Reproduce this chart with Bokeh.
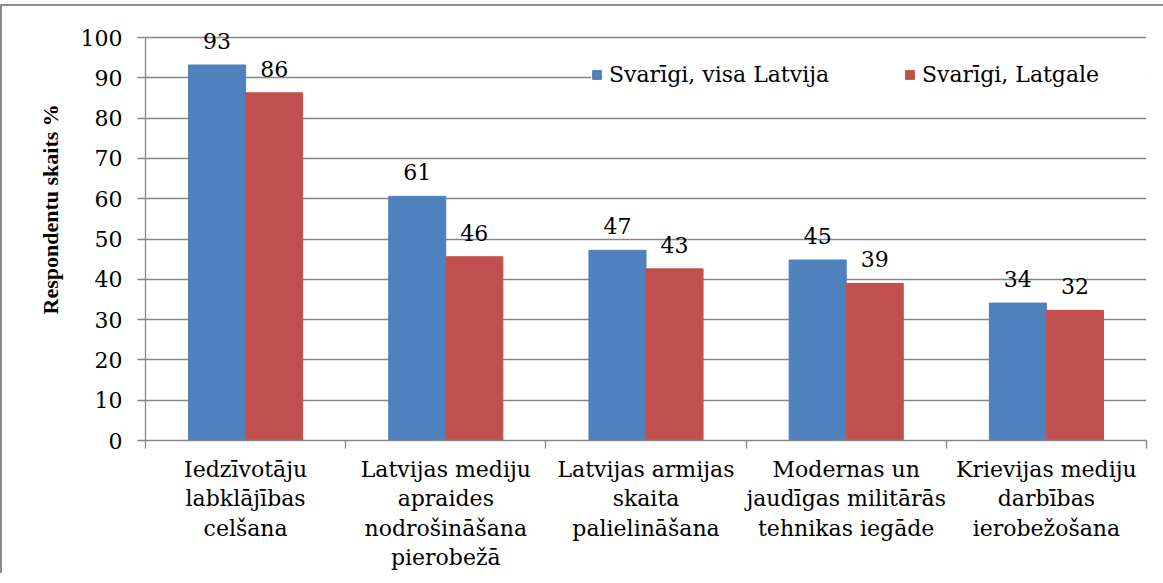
from bokeh.plotting import figure
from bokeh.models import ColumnDataSource, FixedTicker, Legend, LegendItem, Title, Range1d
from bokeh.core.properties import value
from bokeh.embed import file_html
from bokeh.resources import INLINE

# ---- data ----
categories = [
    "Iedzīvotāju\nlabklājības\ncelšana",
    "Latvijas mediju\napraides\nnodrošināšana\npierobežā",
    "Latvijas armijas\nskaita\npalielināšana",
    "Modernas un\njaudīgas militārās\ntehnikas iegāde",
    "Krievijas mediju\ndarbības\nierobežošana",
]
series_names = ["Svarīgi, visa Latvija", "Svarīgi, Latgale"]
latvija = [93.2, 60.6, 47.2, 44.8, 34.1]
latgale = [86.3, 45.6, 42.6, 39.0, 32.3]
y_ticks = list(range(0, 101, 10))
y_title = "Respondentu skaits %"

BLUE = "#4F81BD"
RED = "#C0504D"
GRID = "#868686"
FONT = "DejaVu Serif"
FONT_SIZE = "22px"
TITLE_FONT = "Liberation Serif"

n = len(categories)
bar_w = 0.285
centers = [i + 0.5 for i in range(n)]

src_a = ColumnDataSource(dict(x=[c - bar_w / 2 for c in centers], top=latvija,
                              lab=[f"{v:.0f}" for v in latvija]))
src_b = ColumnDataSource(dict(x=[c + bar_w / 2 for c in centers], top=latgale,
                              lab=[f"{v:.0f}" for v in latgale]))

p = figure(frame_width=1001, frame_height=417, x_range=Range1d(0, n), y_range=Range1d(0, 103.5),
           output_backend="svg", toolbar_location=None,
           min_border_left=143, min_border_right=30, min_border_top=17, min_border_bottom=120)
p.styles = {"border-left": "2px solid #8c8c8c", "border-top": "2px solid #8c8c8c", "margin-top": "4px"}
p.outline_line_color = None
p.background_fill_color = "white"

r1 = p.vbar(x="x", top="top", width=bar_w, source=src_a, fill_color=BLUE, line_color=BLUE)
r2 = p.vbar(x="x", top="top", width=bar_w, source=src_b, fill_color=RED, line_color=RED)

for src in (src_a, src_b):
    p.text(x="x", y="top", text="lab", source=src, text_font=value(FONT),
           text_font_size=value(FONT_SIZE), text_align="center", text_baseline="bottom",
           y_offset=-16, text_color="black")

# grid
p.xgrid.visible = False
p.ygrid.ticker = FixedTicker(ticks=y_ticks)
p.ygrid.grid_line_color = GRID
p.ygrid.grid_line_width = 1.3
p.ygrid.bounds = (0, 100)

# y axis
ya = p.yaxis[0]
ya.ticker = FixedTicker(ticks=y_ticks)
ya.bounds = (0, 100)
ya.axis_line_color = GRID
ya.axis_line_width = 1.3
ya.major_tick_line_color = GRID
ya.major_tick_line_width = 1.3
ya.major_tick_out = 8
ya.major_tick_in = 0
ya.minor_tick_line_color = None
ya.major_label_text_font = FONT
ya.major_label_text_font_size = FONT_SIZE
ya.major_label_text_color = "black"
ya.major_label_standoff = 15

# x axis
xa = p.xaxis[0]
xa.ticker = FixedTicker(ticks=centers, minor_ticks=list(range(n + 1)))
xa.major_label_overrides = {c: lab for c, lab in zip(centers, categories)}
xa.axis_line_color = GRID
xa.axis_line_width = 1.3
xa.major_tick_line_color = None
xa.major_tick_out = 0
xa.major_tick_in = 0
xa.minor_tick_line_color = GRID
xa.minor_tick_line_width = 1.3
xa.minor_tick_out = 8
xa.minor_tick_in = 0
xa.major_label_text_font = FONT
xa.major_label_text_font_size = FONT_SIZE
xa.major_label_text_color = "black"
xa.major_label_text_line_height = 1.18
xa.major_label_standoff = 8

# y title
t = Title(text=y_title, align="left", offset=126, text_font=TITLE_FONT, text_font_size="22px",
          text_font_style="bold", text_color="black", standoff=30)
p.add_layout(t, "left")

legend = Legend(items=[LegendItem(label=series_names[0], renderers=[r1]),
                       LegendItem(label=series_names[1], renderers=[r2])],
                orientation="horizontal", location=(446, 353),
                glyph_width=11, glyph_height=11, label_standoff=7, spacing=67, padding=10,
                label_width=228,
                background_fill_color="white", background_fill_alpha=1.0,
                border_line_color=None, label_text_font=FONT, label_text_font_size=FONT_SIZE,
                label_text_color="black")
p.add_layout(legend)

open("out.html", "w").write(file_html(p, INLINE))
